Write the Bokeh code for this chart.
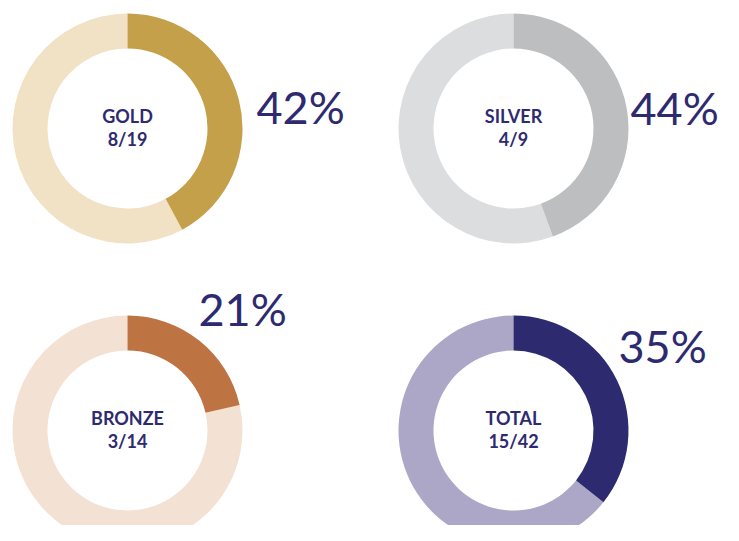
from math import pi
from bokeh.plotting import figure
from bokeh.models import Range1d, ColumnDataSource
from bokeh.core.properties import value
from bokeh.embed import file_html
from bokeh.resources import INLINE

# data
categories = ["GOLD", "SILVER", "BRONZE", "TOTAL"]
won = [8, 4, 3, 15]
total = [19, 9, 14, 42]
percent = [42, 44, 21, 35]

# styles
dark_colors = ["#C4A04A", "#BDBEC0", "#BD7342", "#2E2A70"]
light_colors = ["#F1E1C5", "#DCDDDF", "#F3E2D4", "#ADA7C7"]
text_color = "#2E2A70"

H = 541
# centres in page pixel coords
cx = [127, 513, 127, 513]
cy = [128, 128, 430, 430]
pct_x = [256, 630, 198, 618]
pct_base = [106, 107, 308, 345]

p = figure(width=723, height=525, output_backend="svg", toolbar_location=None,
           x_range=Range1d(0, 723), y_range=Range1d(16, 541), min_border=0)
p.axis.visible = False
p.grid.visible = False
p.outline_line_color = None
p.background_fill_color = "white"
p.border_fill_color = "white"

start = pi / 2
xs = cx
ys = [H - y for y in cy]
fracs = [w / t for w, t in zip(won, total)]
ends = [start - 2 * pi * f for f in fracs]

src = ColumnDataSource(dict(x=xs, y=ys, s=[start] * 4, e=ends, dark=dark_colors, light=light_colors))
p.annular_wedge(x="x", y="y", inner_radius=80, outer_radius=115, start_angle="s", end_angle="e",
                direction="anticlock", fill_color="light", line_color=None, source=src)
p.annular_wedge(x="x", y="y", inner_radius=80, outer_radius=115, start_angle="e", end_angle="s",
                direction="anticlock", fill_color="dark", line_color=None, source=src)

labels = ColumnDataSource(dict(
    x=xs,
    y1=[H - y + 128 - 115 for y in cy],
    y2=[H - y + 128 - 138 for y in cy],
    cat=categories,
    frac=[f"{w}/{t}" for w, t in zip(won, total)],
))
for col in ("y1", "y2"):
    p.text(x="x", y=col, text="cat" if col == "y1" else "frac", source=labels,
           text_align="center", text_baseline="alphabetic",
           text_font=value("Lato"), text_font_style="bold", text_font_size="18px",
           text_color=text_color)

pct = ColumnDataSource(dict(
    x=pct_x, y=[H - b for b in pct_base],
    t=[f"{v}%" for v in percent],
))
p.text(x="x", y="y", text="t", source=pct, text_align="left", text_baseline="alphabetic",
       text_font=value("Lato"), text_font_size="45px", text_color=text_color)

open("out.html", "w").write(file_html(p, INLINE))
